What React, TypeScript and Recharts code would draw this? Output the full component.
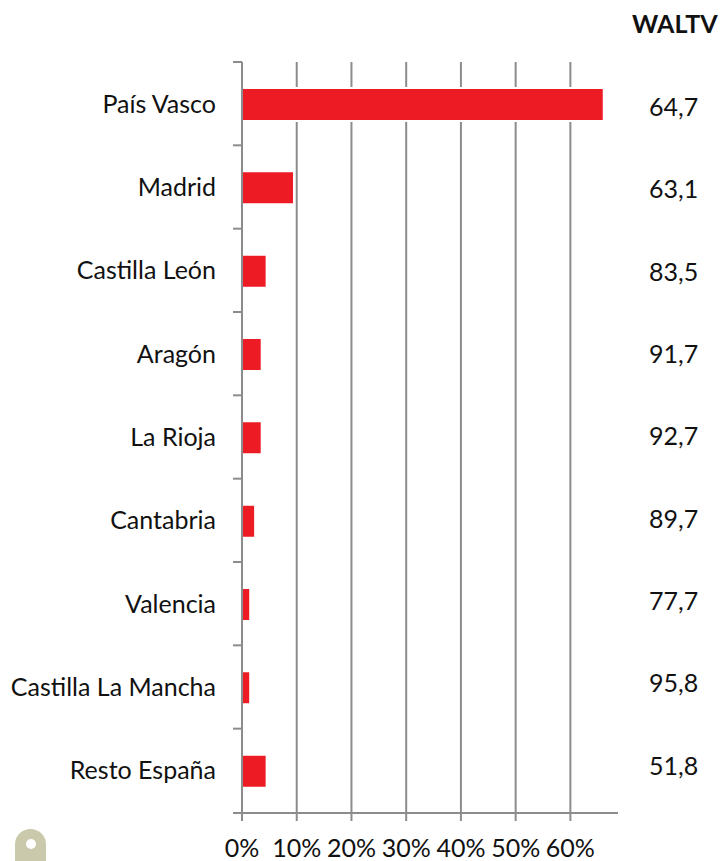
import React from 'react';
import { BarChart, Bar, XAxis, YAxis, CartesianGrid } from 'recharts';

const regions = ['País Vasco', 'Madrid', 'Castilla León', 'Aragón', 'La Rioja', 'Cantabria', 'Valencia', 'Castilla La Mancha', 'Resto España'];
const shares = [66.1, 9.5, 4.5, 3.6, 3.6, 2.4, 1.5, 1.5, 4.5];
const waltv = ['64,7', '63,1', '83,5', '91,7', '92,7', '89,7', '77,7', '95,8', '51,8'];
const percentTicks = [0, 10, 20, 30, 40, 50, 60];

const data = regions.map((region, i) => ({ region, share: shares[i], waltv: waltv[i] }));

const FONT = 'Lato, sans-serif';
const GREY = '#8c8c8c';
const BAND = 750 / regions.length;

// category ticks sit between the bars, the label stays centred on the bar
const RegionTick = ({ x, y, payload, index }: any) => (
  <g>
    <line x1={x - 1} x2={x + 8} y1={y - BAND / 2 - 1} y2={y - BAND / 2 - 1} stroke={GREY} strokeWidth={2} />
    {index === regions.length - 1 && (
      <line x1={x - 1} x2={x + 8} y1={y + BAND / 2} y2={y + BAND / 2} stroke={GREY} strokeWidth={2} />
    )}
    <text x={x - 18} y={y + 8} textAnchor="end" fontFamily={FONT} fontSize={25} fill="#111">
      {payload.value}
    </text>
  </g>
);

export default function App() {
  return (
    <div style={{ position: 'absolute', left: 0, top: 0, width: 721, height: 861, overflow: 'hidden', background: '#fff' }}>
      <BarChart
        width={721}
        height={861}
        data={data}
        layout="vertical"
        margin={{ top: 62, right: 3, bottom: 0, left: 0 }}
      >
        <CartesianGrid horizontal={false} verticalValues={percentTicks} stroke={GREY} strokeWidth={2} />
        <XAxis
          type="number"
          domain={[0, 68.7]}
          ticks={percentTicks}
          tickFormatter={(v: number) => `${v}%`}
          height={48}
          interval={0}
          stroke={GREY}
          strokeWidth={2}
          tickSize={8}
          tickMargin={18}
          tick={{ fill: '#111', fontFamily: FONT, fontSize: 25 }}
        />
        <YAxis
          yAxisId="region"
          type="category"
          dataKey="region"
          width={242}
          interval={0}
          stroke={GREY}
          strokeWidth={2}
          tickLine={false}
          padding={{ top: 1, bottom: 0 }}
          tick={<RegionTick />}
        />
        <YAxis
          yAxisId="waltv"
          type="category"
          dataKey="waltv"
          orientation="right"
          width={100}
          interval={0}
          axisLine={false}
          tickLine={false}
          tickMargin={25}
          padding={{ top: 4, bottom: 6 }}
          tick={{ fill: '#111', fontFamily: FONT, fontSize: 25 }}
        />
        <Bar
          yAxisId="region"
          dataKey="share"
          fill="#ed1c24"
          stroke="#fff"
          strokeWidth={2}
          barSize={33}
          isAnimationActive={false}
        />
      </BarChart>
      <div style={{ position: 'absolute', left: 632, top: 8, fontFamily: FONT, fontWeight: 700, fontSize: 25, color: '#111' }}>
        WALTV
      </div>
      <div style={{ position: 'absolute', left: 15, top: 829, width: 31, height: 40, borderRadius: '16px 16px 0 0', background: '#cbc9ab' }}>
        <div style={{ position: 'absolute', left: 11, top: 10, width: 10, height: 10, borderRadius: 5, background: '#fff' }} />
      </div>
    </div>
  );
}
